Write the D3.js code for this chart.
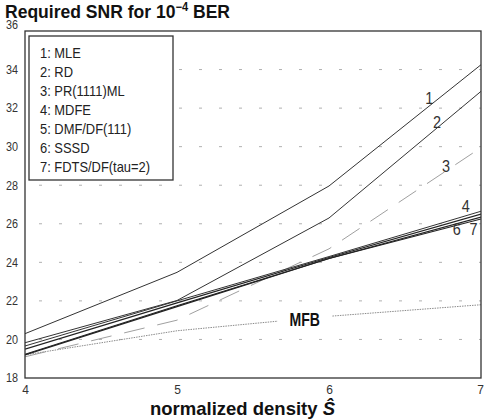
<!DOCTYPE html>
<html>
<head>
<meta charset="utf-8">
<script src="https://cdn.jsdelivr.net/npm/d3@7"></script>
<style>
  html, body { margin: 0; padding: 0; background: #fff; }
  svg { display: block; }
  .narrow { font-family: "Liberation Sans", Arial, sans-serif; }
</style>
</head>
<body>
<svg id="chart" width="484" height="420"></svg>
<script>
// ---- data ----
const densities = [4, 5, 6, 7];
const seriesNames = ["1: MLE", "2: RD", "3: PR(1111)ML", "4: MDFE", "5: DMF/DF(111)", "6: SSSD", "7: FDTS/DF(tau=2)"];
const mle    = [20.3, 23.48, 27.96, 34.25];
const rd     = [19.83, 22.02, 26.3, 32.87];
const pr1111 = [19.1, 21.0, 24.7, 29.95];
const mdfe   = [19.66, 22.0, 24.3, 26.65];
const dmf    = [19.5, 21.9, 24.25, 26.5];
const sssd   = [19.23, 21.75, 24.2, 26.35];
const fdts   = [19.2, 21.7, 24.2, 26.25];
const mfb    = [19.2, 20.45, 21.2, 21.8];
const yTicks = [18, 20, 22, 24, 26, 28, 30, 32, 34, 36];
const xTicks = [4, 5, 6, 7];
const lineLabels = ["1", "2", "3", "4", "6", "7"];

// ---- layout ----
const svg = d3.select("#chart");
const mL = 25, mR = 481, mT = 31, mB = 378;
const x = d3.scaleLinear().domain([4, 7]).range([mL, mR]);
const y = d3.scaleLinear().domain([18, 36]).range([mB, mT]);

// condense a text element horizontally
function condense(sel, f) {
  sel.each(function() {
    const len = this.getComputedTextLength();
    d3.select(this).attr("textLength", len * f).attr("lengthAdjust", "spacingAndGlyphs");
  });
}

svg.append("rect").attr("width", 484).attr("height", 420).attr("fill", "#fff");

// grid
svg.append("g").selectAll("line")
  .data(yTicks.filter(t => t > 18 && t < 36))
  .join("line")
  .attr("x1", mL).attr("x2", mR)
  .attr("y1", d => y(d)).attr("y2", d => y(d))
  .attr("stroke", "#b0b0b0").attr("stroke-width", 1)
  .attr("stroke-dasharray", "3,17").attr("stroke-dashoffset", -14);

// axes (labels only)
const yAxis = d3.axisLeft(y).tickValues(yTicks).tickSize(0).tickPadding(7);
const gy = svg.append("g").attr("transform", `translate(${mL},0)`).call(yAxis);
gy.select(".domain").remove();
gy.selectAll("text").attr("font-family", "Liberation Sans, Arial, sans-serif")
  .attr("font-size", 12).attr("fill", "#333")
  .attr("dy", d => d === 36 ? "-0.2em" : "0.32em")
  .call(condense, 0.9);

const xAxis = d3.axisBottom(x).tickValues(xTicks).tickSize(0).tickPadding(7).tickFormat(d3.format("d"));
const gx = svg.append("g").attr("transform", `translate(0,${mB})`).call(xAxis);
gx.select(".domain").remove();
gx.selectAll("text").attr("font-family", "Liberation Sans, Arial, sans-serif")
  .attr("font-size", 12).attr("fill", "#333")
  .attr("dx", d => d === 7 ? -1 : 0);

// lines
const pts = vals => vals.map((v, i) => [densities[i], v]);
const line = d3.line().x(d => x(d[0])).y(d => y(d[1]));

const series = [
  {vals: mfb,    stroke: "#8a8a8a", w: 1, dash: "1.5,1"},
  {vals: pr1111, stroke: "#a0a0a0", w: 1, dash: "21,13"},
  {vals: mle,    stroke: "#333", w: 1, dash: null},
  {vals: rd,     stroke: "#333", w: 1, dash: null},
  {vals: mdfe,   stroke: "#333", w: 1, dash: null},
  {vals: dmf,    stroke: "#222", w: 1.2, dash: null},
  {vals: sssd,   stroke: "#222", w: 1.2, dash: null},
  {vals: fdts,   stroke: "#222", w: 1.2, dash: null}
];

const clip = svg.append("clipPath").attr("id", "plotclip");
clip.append("rect").attr("x", mL).attr("y", mT).attr("width", mR - mL).attr("height", mB - mT);
// gap in MFB line for its label
const mfbMask = svg.append("mask").attr("id", "mfbmask");
mfbMask.append("rect").attr("x", 0).attr("y", 0).attr("width", 484).attr("height", 420).attr("fill", "#fff");
mfbMask.append("rect").attr("x", x(5.66)).attr("y", y(22)).attr("width", x(6.02) - x(5.66)).attr("height", y(20) - y(22)).attr("fill", "#000");

const gl = svg.append("g").attr("clip-path", "url(#plotclip)");
series.forEach((s, i) => {
  const p = gl.append("path")
    .attr("d", line(pts(s.vals)))
    .attr("fill", "none")
    .attr("stroke", s.stroke)
    .attr("stroke-width", s.w);
  if (s.dash) p.attr("stroke-dasharray", s.dash);
  if (i === 0) p.attr("mask", "url(#mfbmask)");
});

// frame
svg.append("rect").attr("x", mL).attr("y", mT).attr("width", mR - mL).attr("height", mB - mT)
  .attr("fill", "none").attr("stroke", "#333").attr("stroke-width", 1.3);

// MFB label
svg.append("text")
  .attr("x", x(5.84)).attr("y", y(21.02)).attr("dy", "0.36em")
  .attr("text-anchor", "middle").attr("font-family", "Liberation Sans, Arial, sans-serif")
  .attr("font-size", 18).attr("font-weight", "bold")
  .attr("fill", "#111").text("MFB")
  .call(condense, 0.78);

// line number labels (positioned at data coordinates near line ends)
const labelPos = [
  {t: lineLabels[0], s: 6.66, v: 32.55},
  {t: lineLabels[1], s: 6.71, v: 31.3},
  {t: lineLabels[2], s: 6.77, v: 29.0},
  {t: lineLabels[3], s: 6.9, v: 26.95},
  {t: lineLabels[4], s: 6.84, v: 25.75},
  {t: lineLabels[5], s: 6.95, v: 25.75}
];
svg.append("g").selectAll("text").data(labelPos).join("text")
  .attr("class", "narrow")
  .attr("x", d => x(d.s)).attr("y", d => y(d.v)).attr("dy", "0.36em")
  .attr("text-anchor", "middle").attr("font-size", 17).attr("fill", "#333")
  .text(d => d.t)
  .call(condense, 0.85);

// legend
const lg = svg.append("g");
lg.append("rect").attr("x", 29).attr("y", 36).attr("width", 144).attr("height", 144)
  .attr("fill", "#fff").attr("stroke", "#333").attr("stroke-width", 1.3);
lg.selectAll("text").data(seriesNames).join("text")
  .attr("class", "narrow")
  .attr("x", 40).attr("y", (d, i) => 53 + i * 19).attr("dy", "0.36em")
  .attr("font-size", 15).attr("fill", "#222")
  .text(d => d)
  .call(condense, 0.86);

// title
const title = svg.append("text").attr("x", 5).attr("y", 18)
  .attr("font-family", "Liberation Sans, Arial, sans-serif").attr("font-weight", "bold")
  .attr("font-size", 19).attr("fill", "#111")
  .attr("textLength", 225).attr("lengthAdjust", "spacingAndGlyphs");
title.append("tspan").text("Required SNR for 10");
title.append("tspan").attr("dy", -7).attr("font-size", 12).text("\u22124");
title.append("tspan").attr("dy", 7).text(" BER");

// x axis title
const xt = svg.append("text").attr("x", 150).attr("y", 415)
  .attr("font-family", "Liberation Sans, Arial, sans-serif").attr("font-weight", "bold")
  .attr("font-size", 19).attr("fill", "#111")
  .attr("textLength", 185).attr("lengthAdjust", "spacingAndGlyphs");
xt.append("tspan").text("normalized density ");
xt.append("tspan").attr("font-style", "italic").text("\u015C");
</script>
</body>
</html>
